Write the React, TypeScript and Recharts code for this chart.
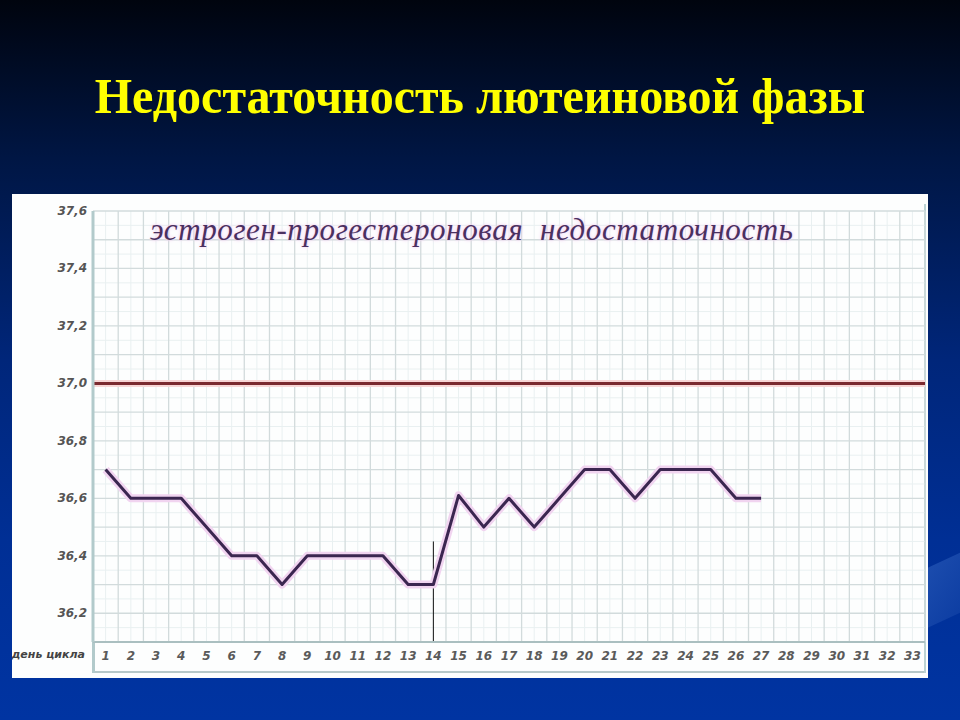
import React from 'react';
import { LineChart, Line, XAxis, YAxis, ReferenceLine } from 'recharts';

// basal temperature by day of cycle
const days = [1, 2, 3, 4, 5, 6, 7, 8, 9, 10, 11, 12, 13, 14, 15, 16, 17, 18, 19, 20, 21, 22, 23, 24, 25, 26, 27];
const temps = [36.7, 36.6, 36.6, 36.6, 36.5, 36.4, 36.4, 36.3, 36.4, 36.4, 36.4, 36.4, 36.3, 36.3, 36.61, 36.5, 36.6, 36.5, 36.6, 36.7, 36.7, 36.6, 36.7, 36.7, 36.7, 36.6, 36.6];

const xTicks = Array.from({ length: 33 }, (_, i) => i + 1);
const yTicks = [36.2, 36.4, 36.6, 36.8, 37.0, 37.2, 37.4, 37.6];
const threshold = 37.0;
const ovulationDay = 14;

const data = days.map((d, i) => ({ day: d, t: temps[i] }));

// grid positions
const vMajor = Array.from({ length: 34 }, (_, i) => i + 0.5);
const vMinor = xTicks;
const hMajor = Array.from({ length: 15 }, (_, i) => +(36.2 + i * 0.1).toFixed(2));
const hMinor = Array.from({ length: 15 }, (_, i) => +(36.15 + i * 0.1).toFixed(2));

const XTick = (props: any) => {
  const { x, y, payload } = props;
  return (
    <text x={x} y={y + 10} textAnchor="middle" fill="#5a5a5a" fontSize={12} fontStyle="italic" fontWeight={600} fontFamily="'DejaVu Sans', sans-serif">
      {payload.value}
    </text>
  );
};

const YTick = (props: any) => {
  const { x, y, payload } = props;
  return (
    <text x={x} y={y + 4} textAnchor="end" fill="#555" fontSize={12} fontStyle="italic" fontWeight={700} fontFamily="'DejaVu Sans', sans-serif">
      {payload.value.toFixed(1).replace('.', ',')}
    </text>
  );
};

export default function App() {
  return (
    <div
      style={{
        position: 'absolute',
        left: 0,
        top: 0,
        width: 960,
        height: 720,
        overflow: 'hidden',
        background: 'linear-gradient(to bottom, #00040e 0%, #001644 22%, #00267a 50%, #002f95 75%, #0034a2 100%)',
      }}
    >
      <div
        style={{
          position: 'absolute',
          right: -40,
          top: 555,
          width: 90,
          height: 60,
          background: 'linear-gradient(135deg, #2556b5, #0a3aa0)',
          transform: 'skewY(-25deg)',
          opacity: 0.8,
        }}
      />
      <div
        style={{
          position: 'absolute',
          left: 0,
          top: 67,
          width: 960,
          textAlign: 'center',
          color: '#ffff00',
          fontFamily: "'Liberation Serif', serif",
          fontWeight: 700,
          fontSize: 48,
          lineHeight: '58px',
          transform: 'scaleY(1.05)',
        }}
      >
        Недостаточность лютеиновой фазы
      </div>
      <div
        style={{
          position: 'absolute',
          left: 12,
          top: 194,
          width: 916,
          height: 484,
          background: '#fdfefe',
        }}
      >
        <div style={{ position: 'absolute', left: 81, top: 477, width: 833, height: 2, background: '#b6c8c9' }} />
        <div style={{ position: 'absolute', left: 912, top: 10, width: 2, height: 469, background: '#bcd3d4' }} />
        <div style={{ position: 'absolute', left: 80, top: 448, width: 3, height: 31, background: '#b2cacb' }} />
        <LineChart width={916} height={484} data={data} margin={{ top: 17, right: 3, bottom: 0, left: 0 }}>
          {hMinor.map((v) => (
            <ReferenceLine key={'hm' + v} y={v} stroke="#e9f0f1" strokeWidth={1} ifOverflow="hidden" />
          ))}
          {vMinor.map((v) => (
            <ReferenceLine key={'vm' + v} x={v} stroke="#e9f0f1" strokeWidth={1} />
          ))}
          {hMajor.map((v) => (
            <ReferenceLine key={'h' + v} y={v} stroke="#d2dbdc" strokeWidth={1.3} />
          ))}
          {vMajor.map((v) => (
            <ReferenceLine key={'v' + v} x={v} stroke="#d2dbdc" strokeWidth={1.3} />
          ))}
          <XAxis
            dataKey="day"
            type="number"
            domain={[0.5, 33.5]}
            ticks={xTicks}
            interval={0}
            height={36}
            tickLine={false}
            axisLine={{ stroke: '#aabfc0', strokeWidth: 2 }}
            tick={<XTick />}
            label={{ value: 'день цикла', position: 'left', offset: 8, fill: '#444', fontSize: 11, fontStyle: 'italic', fontWeight: 700, fontFamily: "'DejaVu Sans', sans-serif", dy: -6 }}
          />
          <YAxis
            type="number"
            domain={[36.1, 37.6]}
            ticks={yTicks}
            width={81}
            tickLine={false}
            tickSize={4}
            tickMargin={2}
            axisLine={{ stroke: '#b2cacb', strokeWidth: 3 }}
            tick={<YTick />}
            allowDataOverflow
          />
          <ReferenceLine y={threshold} stroke="#f7d6d6" strokeWidth={7} />
          <ReferenceLine y={threshold} stroke="#7a2a30" strokeWidth={3} />
          <ReferenceLine
            segment={[{ x: ovulationDay, y: 36.45 }, { x: ovulationDay, y: 36.1 }]}
            stroke="#111"
            strokeWidth={1}
          />
          <Line dataKey="t" stroke="#f1d4f0" strokeWidth={8} dot={false} isAnimationActive={false} strokeLinejoin="round" />
          <Line dataKey="t" stroke="#3b2650" strokeWidth={3} dot={false} isAnimationActive={false} strokeLinejoin="round" />
        </LineChart>
        <div
          style={{
            position: 'absolute',
            left: 138,
            top: 18,
            width: 664,
            fontFamily: "'Liberation Serif', serif",
            fontStyle: 'italic',
            fontSize: 31,
            color: '#4a3060',
            letterSpacing: 0.6,
            whiteSpace: 'nowrap',
            textShadow: '0 0 4px #f3d2f2, 0 0 2px #f3d2f2',
          }}
        >
          эстроген-прогестероновая&nbsp;&nbsp;недостаточность
        </div>
      </div>
    </div>
  );
}
